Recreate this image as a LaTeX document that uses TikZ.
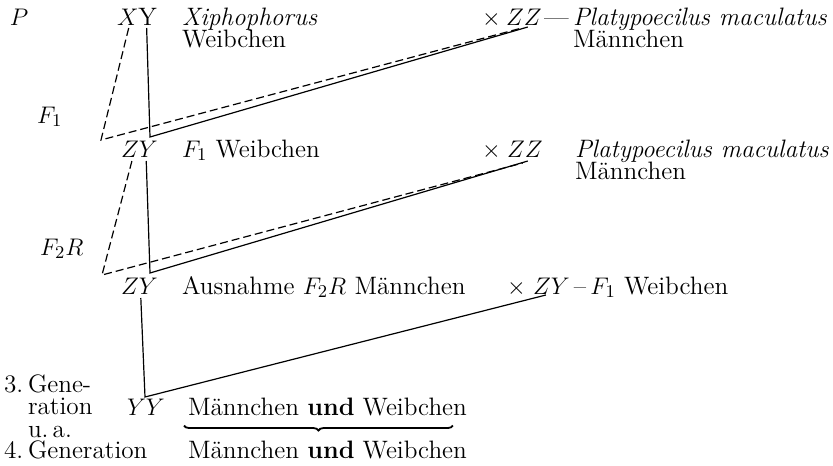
\documentclass[tikz,border=0pt]{standalone}
\usepackage{fontspec}
\usetikzlibrary{decorations.pathreplacing}
\newcommand{\fs}{\fontsize{12.6}{15}\selectfont}
\newcommand{\stacktwo}[3]{\vtop{\baselineskip=#1\lineskiplimit=-100pt\lineskip=0pt\hbox{#2}\hbox{#3}}}
\newcommand{\stackthree}[4]{\vtop{\baselineskip=#1\lineskiplimit=-100pt\lineskip=0pt\hbox{#2}\hbox{#3}\hbox{#4}}}
\begin{document}
\begin{tikzpicture}[x=0.5pt,y=-0.5pt,
  every node/.style={inner sep=0pt, outer sep=0pt, anchor=base west, font=\fs},
  solidline/.style={line width=0.6pt},
  dashline/.style={line width=0.6pt, dash pattern=on 4pt off 2pt}]
\useasboundingbox (0,0) rectangle (833,465);
% ---------- row 1 ----------
\node (P) at (10,26) {$P$};
\node (X1) at (117,26) {$X$};
\node (Y1) at (X1.base east) {Y};
\node (xipho) at (182,26) {\stacktwo{11pt}{\textit{Xiphophorus}}{Weibchen}};
\node (times1) at (482,26) {$\times$};
\node (ZZ1) at (506,26) {$ZZ$};
\node (dash1) at (544,26) {---};
\node (plat1) at (573,26) {\stacktwo{11pt}{\textit{Platypoecilus maculatus}}{Männchen}};
\node (F1lab) at (37,123) {$F_1$};
% ---------- row 2 ----------
\node (Z2) at (121,157) {$Z$};
\node (Y2) at (Z2.base east) {$Y$};
\node (f1w) at (182,157) {$F_1$ Weibchen};
\node (times2) at (482,157) {$\times$};
\node (ZZ2) at (507,157) {$ZZ$};
\node (plat2) at (575,157) {\stacktwo{11pt}{\textit{Platypoecilus maculatus}}{Männchen}};
\node (F2Rlab) at (40,255) {$F_2R$};
% ---------- row 3 ----------
\node (Z3) at (121,294) {$Z$};
\node (Y3) at (Z3.base east) {$Y$};
\node (ausn) at (182,294) {Ausnahme $F_2R$ Männchen};
\node (times3) at (507,294) {$\times$};
\node (Z3r) at (533,294) {$Z$};
\node (Y3r) at (Z3r.base east) {$Y$};
\node (dash3) at (Y3r.base east) {\,--\,};
\node (f1w3) at (dash3.base east) {$F_1$ Weibchen};
% ---------- bottom ----------
\node (three) at (4,392) {3.};
\node (gene) at (28,392) {\stackthree{11.3pt}{Gene-}{ration}{u.\,a.}};
\node (YY) at (127,415) {$YY$};
\node (mw1) at (188,415) {Männchen \textbf{und} Weibchen};
\node (four) at (4,458) {4.};
\node (genr) at (28,458) {Generation};
\node (mw2) at (188,458) {Männchen \textbf{und} Weibchen};
% ---------- corners ----------
\coordinate (c1) at (101,140);
\coordinate (c2) at (150,137);
\coordinate (c3) at (102,275);
\coordinate (c4) at (150,273);
\coordinate (c5) at (145,397);
% ---------- connectors ----------
\draw[dashline] ([xshift=0.5pt,yshift=-1pt]X1.south) -- (c1) -- ([xshift=-1pt,yshift=-1pt]ZZ1.south);
\draw[solidline] ([xshift=-0.5pt,yshift=-1pt]Y1.south) -- (c2) -- ([xshift=2pt,yshift=-0.5pt]ZZ1.south);
\draw[dashline] ([xshift=1pt,yshift=-2pt]Z2.south) -- (c3) -- ([xshift=-1pt,yshift=-3pt]ZZ2.south);
\draw[solidline] ([xshift=-1pt,yshift=-2pt]Y2.south) -- (c4) -- ([xshift=1.5pt,yshift=-2pt]ZZ2.south);
\draw[solidline] ([xshift=1pt,yshift=-2pt]Y3.south west) -- (c5) -- ([xshift=2pt,yshift=-0.5pt]Z3r.south);
\draw[line width=0.9pt, decorate, decoration={brace, mirror, amplitude=2.5pt}]
  ([xshift=-2pt,yshift=-5pt]mw1.south west) -- ([xshift=-7pt,yshift=-5pt]mw1.south east);
\end{tikzpicture}
\end{document}
